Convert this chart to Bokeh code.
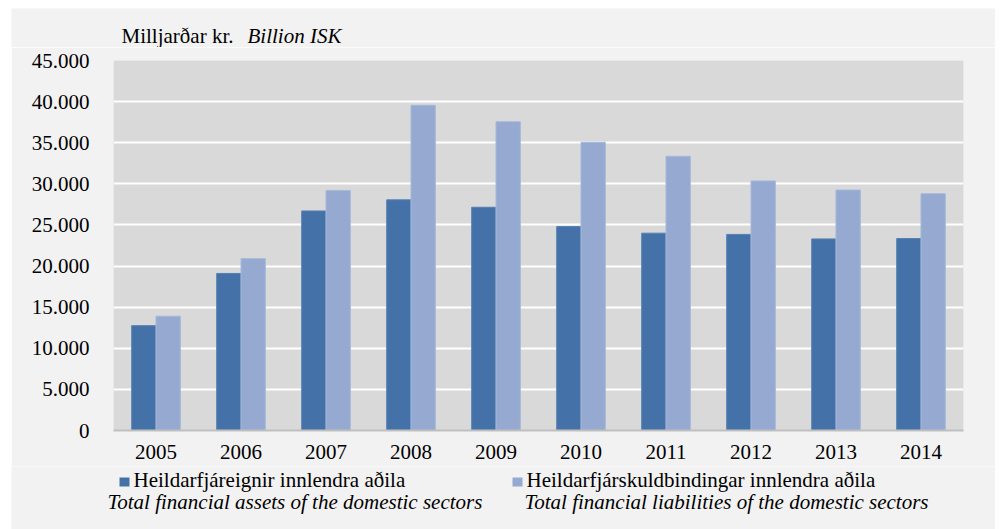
from bokeh.plotting import figure
from bokeh.layouts import column
from bokeh.models import FixedTicker, ColumnDataSource, Range1d
from bokeh.transform import dodge
from bokeh.core.properties import value
from bokeh.embed import file_html
from bokeh.resources import INLINE

years = ["2005", "2006", "2007", "2008", "2009", "2010", "2011", "2012", "2013", "2014"]
assets = [12750, 19100, 26700, 28050, 27150, 24800, 24000, 23850, 23300, 23350]
liabilities = [13900, 20900, 29200, 39550, 37550, 35050, 33350, 30350, 29250, 28800]
y_ticks = [0, 5000, 10000, 15000, 20000, 25000, 30000, 35000, 40000, 45000]
y_tick_labels = ["0", "5.000", "10.000", "15.000", "20.000", "25.000", "30.000", "35.000", "40.000", "45.000"]
title_is = "Milljarðar kr."
title_en = "Billion ISK"
legend_is = ["Heildarfjáreignir innlendra aðila", "Heildarfjárskuldbindingar innlendra aðila"]
legend_en = ["Total financial  assets of the domestic sectors", "Total financial  liabilities of the domestic sectors"]

DARK = "#4472a8"
LIGHT = "#95a9d1"
PANEL = "#f2f2f2"
FONT = "Liberation Serif"
FS = "21px"
W = 984


def text_panel(height):
    f = figure(width=W, height=height, x_range=Range1d(0, W), y_range=Range1d(0, height),
               output_backend="svg", toolbar_location=None, frame_align=False,
               min_border=0, min_border_left=0, min_border_right=0,
               min_border_top=0, min_border_bottom=0)
    f.axis.visible = False
    f.grid.visible = False
    f.outline_line_color = None
    f.background_fill_color = PANEL
    f.border_fill_color = PANEL
    return f


def put_text(f, x, y, txt, style="normal"):
    f.text(x=[x], y=[y], text=[txt], text_font=value(FONT), text_font_size=value(FS),
           text_font_style=style, text_color="black", text_baseline="alphabetic",
           text_align="left")


# title strip
t = text_panel(39)
put_text(t, 110, 11.7, title_is)
put_text(t, 236, 11.7, title_en, "italic")

# main chart
src = ColumnDataSource(dict(year=years, assets=assets, liabilities=liabilities))
p = figure(x_range=years, y_range=(0, 45000), width=W, height=419,
           output_backend="svg", toolbar_location=None, frame_align=False,
           min_border_left=102, min_border_right=32, min_border_top=13, min_border_bottom=36)
p.x_range.range_padding = 0
p.background_fill_color = "#d9d9d9"
p.border_fill_color = PANEL
p.outline_line_color = None

p.vbar(x=dodge("year", -0.143, range=p.x_range), top="assets", width=0.286, source=src,
       fill_color=DARK, line_color="#5580b3", line_width=1)
p.vbar(x=dodge("year", 0.143, range=p.x_range), top="liabilities", width=0.286, source=src,
       fill_color=LIGHT, line_color="#a6b8da", line_width=1)

p.xgrid.grid_line_color = None
p.ygrid.grid_line_color = "white"
p.ygrid.grid_line_width = 2
p.yaxis.ticker = FixedTicker(ticks=y_ticks)
p.yaxis.major_label_overrides = {tk: lb for tk, lb in zip(y_ticks, y_tick_labels)}

for ax in (p.xaxis[0], p.yaxis[0]):
    ax.major_tick_line_color = None
    ax.minor_tick_line_color = None
    ax.major_label_text_font = FONT
    ax.major_label_text_font_size = FS
    ax.major_label_text_color = "black"
p.yaxis.axis_line_color = None
p.yaxis.major_label_standoff = 18
p.xaxis.axis_line_color = "#bfbfbf"
p.xaxis.axis_line_width = 2
p.xaxis.major_label_standoff = 8

# legend strip
lg = text_panel(63)
lg.quad(left=[108, 501], right=[118, 511], bottom=[43, 43], top=[52, 52],
        fill_color=[DARK, LIGHT], line_color=None)
put_text(lg, 122, 50, legend_is[0])
put_text(lg, 96, 28, legend_en[0], "italic")
put_text(lg, 515, 50, legend_is[1])
put_text(lg, 513, 28, legend_en[1], "italic")

layout = column(t, p, lg, spacing=0, margin=(8, 5, 0, 11))
open("out.html", "w").write(file_html(layout, INLINE))
